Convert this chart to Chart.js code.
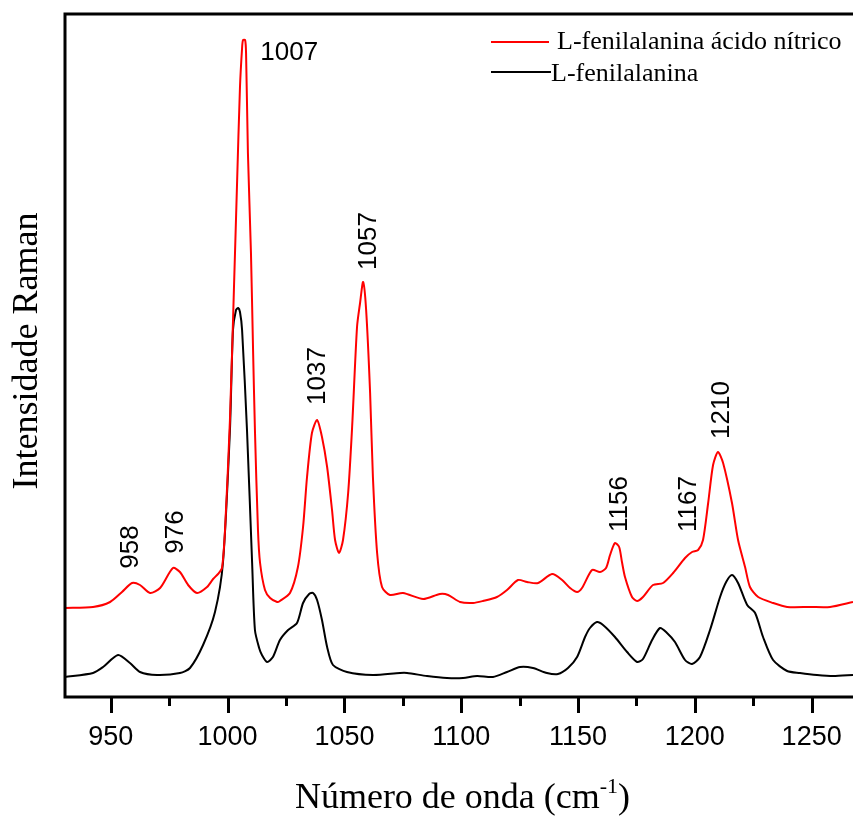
<!DOCTYPE html>
<html lang="pt">
<head>
<meta charset="UTF-8">
<title>Espectro Raman L-fenilalanina</title>
<script src="https://cdn.jsdelivr.net/npm/chart.js"></script>
<style>
  html, body { margin: 0; padding: 0; background: #fff; }
  canvas { display: block; }
</style>
</head>
<body>
<canvas id="grafica" width="853" height="816"></canvas>
<script>
// L-fenilalanina ácido nítrico (vermelho)
const redX = [930.4, 942.4, 949.7, 954.8, 959.1, 962.5, 966.8, 971.1, 976.6, 979.6, 983.1, 986.9, 991.2, 993.8, 995.9, 997.6,
  998.9, 1001.0, 1002.7, 1004.0, 1005.3, 1006.2, 1006.6, 1007.5, 1007.9, 1008.7, 1010.0, 1010.9, 1011.7, 1013.0, 1013.9,
  1016.0, 1018.2, 1021.2, 1022.4, 1026.7, 1030.1, 1032.3, 1034.0, 1036.1, 1038.3, 1040.4, 1042.6, 1044.7, 1046.0, 1047.7,
  1049.4, 1051.6, 1053.3, 1055.4, 1056.7, 1058.0, 1059.3, 1061.0, 1062.2, 1064.0, 1066.1, 1069.5, 1075.1, 1083.7, 1090.9,
  1094.4, 1099.5, 1105.1, 1109.3, 1115.3, 1119.6, 1124.3, 1128.2, 1132.9, 1138.9, 1143.2, 1146.6, 1149.6, 1151.7, 1156.0,
  1159.4, 1162.0, 1163.7, 1165.8, 1167.6, 1168.8, 1170.1, 1173.1, 1175.3, 1177.8, 1182.1, 1186.4, 1190.7, 1195.8, 1198.8,
  1201.4, 1203.5, 1205.7, 1207.8, 1209.9, 1212.1, 1215.9, 1218.5, 1221.5, 1223.6, 1227.1, 1233.5, 1239.5, 1249.3, 1257.9, 1267.7];
const redY = [89, 90, 95, 105, 114, 112, 104, 109, 129, 125, 112, 104, 110, 118, 123, 129,
  167, 277, 407, 510, 610, 649, 657, 657, 644, 544, 444, 347, 267, 167, 134,
  107, 99, 95, 96, 104, 130, 170, 220, 264, 277, 260, 230, 187, 157, 144,
  157, 204, 270, 370, 394, 415, 387, 304, 220, 144, 110, 102, 104, 98, 103,
  102, 95, 94, 96, 100, 107, 117, 115, 114, 123, 117, 109, 105, 109, 127,
  125, 129, 142, 154, 150, 135, 120, 100, 96, 100, 112, 114, 124, 139, 145,
  147, 157, 194, 232, 245, 234, 194, 157, 130, 110, 100, 94, 90, 90, 90, 95];

// L-fenilalanina (preto)
const blackX = [930.4, 942.4, 946.7, 953.1, 958.2, 962.5, 969.8, 979.6, 983.9, 989.5, 994.6, 998.0, 1001.0, 1002.3, 1003.6,
  1004.5, 1005.3, 1006.2, 1008.3, 1010.5, 1011.7, 1013.5, 1014.7, 1016.9, 1019.4, 1022.4, 1025.9, 1029.7, 1032.3, 1034.9,
  1036.6, 1038.3, 1040.4, 1042.6, 1045.1, 1051.1, 1062.2, 1073.8, 1076.8, 1085.4, 1093.9, 1100.8, 1106.8, 1113.6, 1119.6,
  1125.2, 1130.7, 1136.7, 1141.4, 1145.7, 1149.6, 1153.0, 1155.1, 1158.1, 1160.7, 1165.8, 1171.0, 1175.3, 1177.8, 1181.7,
  1185.1, 1188.1, 1191.5, 1195.8, 1198.8, 1202.2, 1206.5, 1210.8, 1213.4, 1215.9, 1218.5, 1222.4, 1225.8, 1229.2, 1233.5,
  1239.5, 1245.0, 1252.3, 1259.2, 1267.7];
const blackY = [20, 24, 30, 42, 34, 25, 22, 24, 29, 52, 85, 134, 267, 367, 387,
  389, 385, 367, 267, 134, 67, 49, 42, 35, 40, 57, 67, 74, 94, 103,
  104, 97, 77, 50, 32, 25, 22, 24, 24, 21, 19, 19, 21, 20, 25,
  30, 29, 24, 23, 29, 40, 60, 69, 75, 72, 60, 45, 35, 38, 57,
  69, 64, 55, 37, 33, 40, 67, 100, 115, 122, 114, 92, 84, 60, 37,
  26, 24, 22, 21, 22];

const tickVals = [950, 975, 1000, 1025, 1050, 1075, 1100, 1125, 1150, 1175, 1200, 1225, 1250];
const seriesNames = ['L-fenilalanina ácido nítrico', 'L-fenilalanina'];
const seriesColors = ['#ff0000', '#000000'];

// rótulos dos picos: texto, posição (cm-1, intensidade)
const peakText = ['958', '976', '1037', '1057', '1156', '1167', '1210'];
const peakAtX = [958.2, 977.5, 1038.3, 1060.1, 1167.6, 1197.1, 1211.2];
const peakAtY = [150, 165, 321, 456, 193, 193, 287];

const toPoints = (xs, ys) => xs.map((x, i) => ({ x: x, y: ys[i] }));

const serif = '"Liberation Serif", "Times New Roman", serif';
const sans = 'Arial, "Liberation Sans", sans-serif';

const extras = {
  id: 'extras',
  afterDraw(chart) {
    const ctx = chart.ctx;
    const a = chart.chartArea;
    const xs = chart.scales.x;
    const ys = chart.scales.y;
    ctx.save();
    // moldura
    ctx.strokeStyle = '#000';
    ctx.lineWidth = 3;
    ctx.beginPath();
    ctx.moveTo(853, a.top);
    ctx.lineTo(a.left, a.top);
    ctx.lineTo(a.left, a.bottom);
    ctx.lineTo(853, a.bottom);
    ctx.stroke();
    // marcas do eixo x
    tickVals.forEach(v => {
      const px = Math.round(xs.getPixelForValue(v)) + 0.5;
      const len = v % 50 === 0 ? 16 : 9;
      ctx.beginPath();
      ctx.moveTo(px, a.bottom);
      ctx.lineTo(px, a.bottom + len);
      ctx.stroke();
    });
    ctx.fillStyle = '#000';
    // título eixo x com sobrescrito
    ctx.font = '36px ' + serif;
    const t1 = 'Número de onda (cm';
    const sup = '-1';
    const t2 = ')';
    const w1 = ctx.measureText(t1).width;
    const w3 = ctx.measureText(t2).width;
    ctx.font = '22px ' + serif;
    const w2 = ctx.measureText(sup).width;
    let x0 = (a.left + 860) / 2 - (w1 + w2 + w3) / 2;
    ctx.textAlign = 'left';
    ctx.textBaseline = 'alphabetic';
    ctx.font = '36px ' + serif;
    ctx.fillText(t1, x0, 808);
    ctx.font = '22px ' + serif;
    ctx.fillText(sup, x0 + w1, 793);
    ctx.font = '36px ' + serif;
    ctx.fillText(t2, x0 + w1 + w2, 808);
    // título eixo y
    ctx.save();
    ctx.translate(37, 351);
    ctx.rotate(-Math.PI / 2);
    ctx.textAlign = 'center';
    ctx.fillText('Intensidade Raman', 0, 0);
    ctx.restore();
    // legenda
    ctx.font = '26px ' + serif;
    ctx.lineWidth = 2;
    ctx.strokeStyle = seriesColors[0];
    ctx.beginPath(); ctx.moveTo(491, 42); ctx.lineTo(549, 42); ctx.stroke();
    ctx.fillText(seriesNames[0], 557, 49);
    ctx.strokeStyle = seriesColors[1];
    ctx.beginPath(); ctx.moveTo(491, 72); ctx.lineTo(551, 72); ctx.stroke();
    ctx.fillText(seriesNames[1], 551, 81);
    // rótulos dos picos
    ctx.font = '26px ' + sans;
    ctx.fillText('1007', xs.getPixelForValue(1014.0), 60);
    peakText.forEach((t, i) => {
      ctx.save();
      ctx.translate(xs.getPixelForValue(peakAtX[i]), ys.getPixelForValue(peakAtY[i]));
      ctx.rotate(-Math.PI / 2);
      ctx.textAlign = 'center';
      ctx.textBaseline = 'middle';
      ctx.fillText(t, 0, 1);
      ctx.restore();
    });
    ctx.restore();
  }
};

new Chart(document.getElementById('grafica').getContext('2d'), {
  type: 'line',
  data: {
    datasets: [{
      label: seriesNames[0],
      data: toPoints(redX, redY),
      borderColor: seriesColors[0],
      borderWidth: 2,
      pointRadius: 0,
      tension: 0.25,
      fill: false
    }, {
      label: seriesNames[1],
      data: toPoints(blackX, blackY),
      borderColor: seriesColors[1],
      borderWidth: 2,
      pointRadius: 0,
      tension: 0.25,
      fill: false
    }]
  },
  options: {
    responsive: false,
    animation: false,
    devicePixelRatio: 1,
    layout: { padding: { left: 65, top: 14, right: 0, bottom: 0 } },
    plugins: { legend: { display: false }, tooltip: { enabled: false } },
    scales: {
      x: {
        type: 'linear',
        min: 930.4,
        max: 1267.7,
        afterBuildTicks: s => { s.ticks = tickVals.map(v => ({ value: v })); },
        afterFit: s => { s.height = 119; },
        ticks: {
          autoSkip: false,
          maxRotation: 0,
          padding: 8,
          color: '#000',
          font: { family: sans, size: 27 },
          callback: v => (v % 50 === 0 ? String(v) : '')
        },
        grid: { display: true, drawOnChartArea: false, drawTicks: true, tickLength: 16, color: 'rgba(0,0,0,0)' },
        border: { display: false }
      },
      y: { display: false, min: 0, max: 683 }
    }
  },
  plugins: [extras]
});
</script>
</body>
</html>
